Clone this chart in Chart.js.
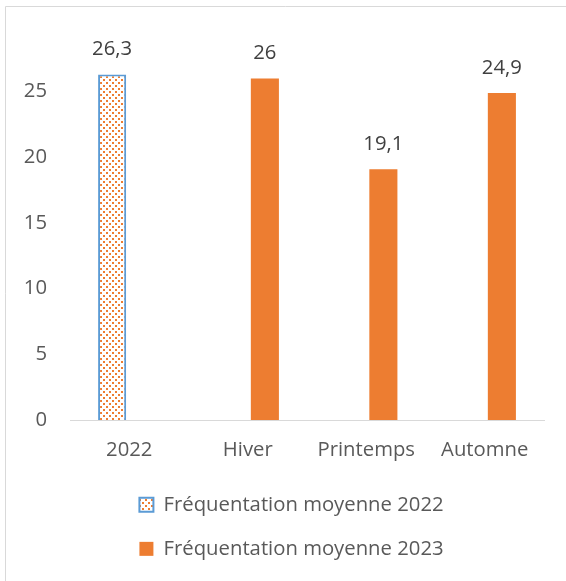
<!DOCTYPE html>
<html>
<head>
<meta charset="utf-8">
<script src="https://cdn.jsdelivr.net/npm/chart.js@4/dist/chart.umd.min.js"></script>
<style>
  html, body { margin: 0; padding: 0; background: #fff; }
  #wrap { width: 566px; height: 581px; position: relative; }
</style>
</head>
<body>
<div id="wrap"><canvas id="chartCanvas" width="566" height="581"></canvas></div>
<script>
// data
const categories = ["2022", "Hiver", "Printemps", "Automne"];
const serie2022 = [26.3, null, null, null];
const serie2023 = [null, 26, 19.1, 24.9];
const seriesLabels = ["Fréquentation moyenne 2022", "Fréquentation moyenne 2023"];
const yTicks = [0, 5, 10, 15, 20, 25];

const FONT = "'Open Sans'";
const FSIZE = 20.3;
const ORANGE = "#ED7D31";
const BLUE = "#5B9BD5";
const TEXT = "#595959";

// motif pointillé pour la barre 2022
function makeDots() {
    const c = document.createElement("canvas");
    c.width = 6;
    c.height = 6;
    const g = c.getContext("2d");
    g.fillStyle = "#ffffff";
    g.fillRect(0, 0, 6, 6);
    g.fillStyle = ORANGE;
    g.fillRect(1, 1, 2, 2);
    g.fillRect(4, 4, 2, 2);
    return g.createPattern(c, "repeat");
}

// cadre gris autour du graphique
const framePlugin = {
    id: "frame",
    beforeDraw(chart) {
        const ctx = chart.ctx;
        ctx.save();
        ctx.strokeStyle = "#d9d9d9";
        ctx.lineWidth = 1;
        ctx.beginPath();
        ctx.moveTo(5.5, 581);
        ctx.lineTo(5.5, 6.5);
        ctx.lineTo(566, 6.5);
        ctx.stroke();
        ctx.restore();
    }
};

// étiquettes de valeurs au-dessus des barres
const valueLabels = {
    id: "valueLabels",
    afterDatasetsDraw(chart) {
        const ctx = chart.ctx;
        ctx.save();
        ctx.font = FSIZE + "px " + FONT;
        ctx.fillStyle = "#404040";
        ctx.textAlign = "center";
        ctx.textBaseline = "middle";
        chart.data.datasets.forEach((ds, i) => {
            const meta = chart.getDatasetMeta(i);
            meta.data.forEach((bar, j) => {
                const v = ds.data[j];
                if (v === null || v === undefined) return;
                ctx.fillText(String(v).replace(".", ","), bar.x, bar.y - 25);
            });
        });
        ctx.restore();
    }
};

const ctx = document.getElementById("chartCanvas").getContext("2d");

new Chart(ctx, {
    type: "bar",
    data: {
        labels: categories,
        datasets: [
            {
                label: seriesLabels[0],
                data: serie2022,
                backgroundColor: makeDots(),
                borderColor: BLUE,
                borderWidth: 2,
                categoryPercentage: 0.578,
                barPercentage: 0.82
            },
            {
                label: seriesLabels[1],
                data: serie2023,
                backgroundColor: ORANGE,
                borderWidth: 0,
                categoryPercentage: 0.578,
                barPercentage: 0.82
            }
        ]
    },
    options: {
        responsive: false,
        animation: false,
        devicePixelRatio: 1,
        layout: { padding: { left: 17, right: 0, top: 26, bottom: 12 } },
        plugins: {
            tooltip: { enabled: false },
            legend: {
                position: "bottom",
                labels: {
                    color: TEXT,
                    font: { family: FONT, size: FSIZE },
                    boxWidth: 14,
                    boxHeight: 14,
                    padding: 23.7
                }
            }
        },
        scales: {
            x: {
                grid: { display: false, drawTicks: false },
                border: { display: true, color: "#d9d9d9", width: 1 },
                ticks: { color: TEXT, font: { family: FONT, size: FSIZE }, padding: 18, maxRotation: 0 },
                afterFit: (s) => { s.height = 51; }
            },
            y: {
                min: 0,
                max: 30,
                grid: { display: false, drawTicks: false },
                border: { display: false },
                afterBuildTicks: (s) => { s.ticks = yTicks.map(v => ({ value: v })); },
                ticks: { color: TEXT, font: { family: FONT, size: FSIZE }, padding: 23 },
                afterFit: (s) => {
                    s.width = 53;
                    s.paddingTop = 0;
                    s.paddingBottom = 0;
                }
            },
            y2: {
                position: "right",
                display: true,
                grid: { display: false, drawTicks: false },
                border: { display: false },
                ticks: { display: false },
                afterFit: (s) => { s.width = 22; }
            }
        }
    },
    plugins: [framePlugin, valueLabels]
});
</script>
</body>
</html>
